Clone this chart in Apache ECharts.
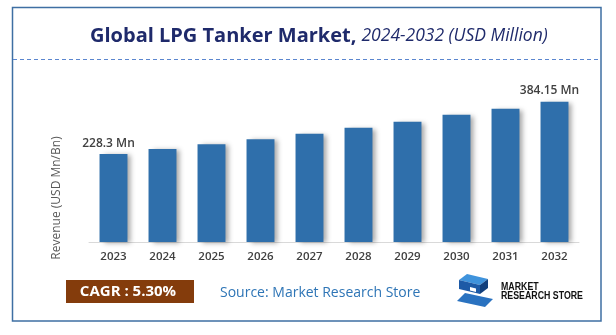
<!DOCTYPE html>
<html><head><meta charset="utf-8">
<script src="https://cdn.jsdelivr.net/npm/echarts@6/dist/echarts.min.js"></script>
<style>html,body{margin:0;padding:0;background:#fff}#c{width:616px;height:335px}</style>
</head><body><div id="c"></div>
<script>
const categories = ['2023', '2024', '2025', '2026', '2027', '2028', '2029', '2030', '2031', '2032'];
const revenue = [228.3, 241.3, 254.2, 267.2, 281.1, 296.6, 312.2, 330.3, 345.9, 364.1];
const valueLabels = ['228.3 Mn', '', '', '', '', '', '', '', '', '384.15 Mn'];
const titleMain = 'Global LPG Tanker Market,';
const titleSub = '2024-2032 (USD Million)';
const yAxisName = 'Revenue (USD Mn/Bn)';
const cagrText = 'CAGR : 5.30%';
const sourceText = 'Source: Market Research Store';
const logoLines = ['MARKET', 'RESEARCH STORE'];

const FONT = '"Open Sans", "Noto Sans", sans-serif';
const LOGOFONT = 'bold 11px "Liberation Sans", sans-serif';
const chart = echarts.init(document.getElementById('c'), null, {renderer: 'canvas'});
chart.setOption({
  animation: false,
  backgroundColor: '#ffffff',
  title: {
    text: '{a|' + titleMain + '} {b|' + titleSub + '}',
    left: 90, top: 26, padding: 0,
    textStyle: {
      rich: {
        a: {fontFamily: FONT, fontSize: 20, fontWeight: 'bold', color: '#1f2a6b'},
        b: {fontFamily: FONT, fontSize: 17.5, fontWeight: 'normal', fontStyle: 'italic', color: '#1f2a6b'}
      }
    }
  },
  grid: {left: 89, right: 37, top: 88, bottom: 93},
  xAxis: {
    type: 'category',
    data: categories,
    axisLine: {lineStyle: {color: '#d9d9d9', width: 1}},
    axisTick: {show: false},
    axisLabel: {color: '#404040', fontSize: 11.5, fontWeight: 600, fontFamily: FONT, margin: 9}
  },
  yAxis: {
    type: 'value', min: 0, max: 400,
    axisLabel: {show: false}, axisLine: {show: false}, axisTick: {show: false}, splitLine: {show: false}
  },
  series: [{
    type: 'bar',
    data: revenue,
    barWidth: '57%',
    itemStyle: {
      color: '#2f6fab',
      shadowColor: 'rgba(0,0,0,0.35)', shadowBlur: 5, shadowOffsetX: 4, shadowOffsetY: 1
    },
    label: {
      show: true, position: 'top', distance: 5, offset: [-5, 0],
      formatter: p => valueLabels[p.dataIndex],
      color: '#404040', fontSize: 12, fontWeight: 600, fontFamily: FONT
    }
  }],
  graphic: [
    {type: 'rect', shape: {x: 12.5, y: 7.5, width: 588.5, height: 313.5}, style: {fill: 'none', stroke: '#3e6fa3', lineWidth: 1.5}, silent: true},
    {type: 'line', shape: {x1: 13, y1: 59.5, x2: 601, y2: 59.5}, style: {stroke: '#5b86cf', lineWidth: 1, lineDash: [4, 3]}, silent: true},
    {type: 'text', x: 57, y: 198, rotation: Math.PI / 2, style: {text: yAxisName, fill: '#595959', font: '12px ' + FONT, align: 'center', verticalAlign: 'middle'}},
    {type: 'rect', shape: {x: 66, y: 280, width: 128, height: 23}, style: {fill: '#843c0c'}},
    {type: 'text', x: 128, y: 292, style: {text: cagrText, fill: '#ffffff', font: 'bold 15px ' + FONT, align: 'center', verticalAlign: 'middle'}},
    {type: 'text', x: 220, y: 293, style: {text: sourceText, fill: '#2e75b6', font: '14px ' + FONT, align: 'left', verticalAlign: 'middle'}},
    {type: 'polygon', shape: {points: [[467, 274], [488, 279], [480, 285], [459, 280]]}, style: {fill: '#3f93dc'}},
    {type: 'polygon', shape: {points: [[459, 280], [480, 285], [480, 294], [459, 289]]}, style: {fill: '#1d5aa6'}},
    {type: 'polygon', shape: {points: [[480, 285], [488, 279], [488, 288], [480, 294]]}, style: {fill: '#123f7c'}},
    {type: 'polygon', shape: {points: [[465, 293], [493, 299], [485, 307], [457, 301]]}, style: {fill: '#2a72c0'}},
    {type: 'polygon', shape: {points: [[470, 287], [476, 288.5], [476, 292], [470, 290.5]]}, style: {fill: '#ffffff'}},
    {type: 'text', x: 501, y: 287, scaleX: 0.8, style: {text: logoLines[0], fill: '#111111', font: LOGOFONT, align: 'left', verticalAlign: 'middle'}},
    {type: 'text', x: 501, y: 296, scaleX: 0.8, style: {text: logoLines[1], fill: '#111111', font: LOGOFONT, align: 'left', verticalAlign: 'middle'}}
  ]
});
</script>
</body></html>
